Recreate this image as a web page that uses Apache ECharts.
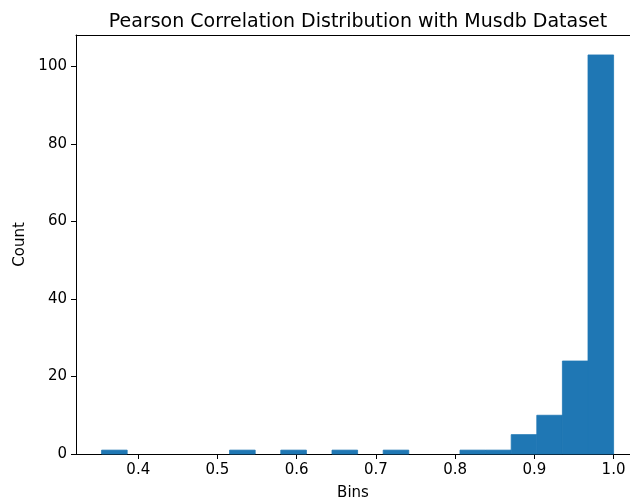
<!DOCTYPE html>
<html>
<head>
<meta charset="utf-8">
<script src="https://cdn.jsdelivr.net/npm/echarts@6/dist/echarts.min.js"></script>
<style>
  html, body { margin: 0; padding: 0; background: #fff; }
  #chart { width: 630px; height: 503px; }
</style>
</head>
<body>
<div id="chart"></div>
<script>
// histogram bins: 20 equal bins from first edge to last edge
const binStart = 0.3537;
const binWidth = 0.03232;
const binCounts = [1, 0, 0, 0, 0, 1, 0, 1, 0, 1, 0, 1, 0, 0, 1, 1, 5, 10, 24, 103];
const xTicks = [0.4, 0.5, 0.6, 0.7, 0.8, 0.9, 1.0];
const yTicks = [0, 20, 40, 60, 80, 100];

const font = 'DejaVu Sans';
const barColor = '#1f77b4';

// [left edge, right edge, count]
const barData = binCounts.map((c, i) => [binStart + i * binWidth, binStart + (i + 1) * binWidth, c]);

const chart = echarts.init(document.getElementById('chart'), null, { renderer: 'canvas' });

// the plot area runs past the right edge of the picture, so no right spine
const xMin = 0.3214;
const xMax = 1.0208;

chart.setOption({
  animation: false,
  title: {
    text: 'Pearson Correlation Distribution with Musdb Dataset',
    left: 353,
    top: 8,
    textAlign: 'center',
    textStyle: { fontFamily: font, fontSize: 19, fontWeight: 'normal', color: '#000' },
  },
  grid: {
    left: 76,
    right: 0,
    top: 35,
    bottom: 49,
    outerBoundsMode: 'none',
  },
  xAxis: [{
    type: 'value',
    min: xMin,
    max: xMax,
    name: 'Bins',
    nameLocation: 'middle',
    nameGap: 32,
    nameTextStyle: { fontFamily: font, fontSize: 15, color: '#000' },
    axisLine: { show: true, lineStyle: { color: '#000', width: 1 } },
    axisTick: { show: true, inside: false, length: 5, lineStyle: { color: '#000' },
      customValues: xTicks },
    axisLabel: { fontFamily: font, fontSize: 15, color: '#000', margin: 9,
      customValues: xTicks, formatter: (v) => v.toFixed(1) },
    splitLine: { show: false },
  }, {
    // top spine only
    type: 'value',
    position: 'top',
    min: xMin,
    max: xMax,
    axisLine: { show: true, lineStyle: { color: '#000', width: 1 } },
    axisTick: { show: false },
    axisLabel: { show: false },
    splitLine: { show: false },
  }],
  yAxis: {
    type: 'value',
    min: 0,
    max: 108.15,
    name: 'Count',
    nameLocation: 'middle',
    nameGap: 45,
    nameRotate: 90,
    nameTextStyle: { fontFamily: font, fontSize: 15, color: '#000' },
    axisLine: { show: true, lineStyle: { color: '#000', width: 1 } },
    axisTick: { show: true, inside: false, length: 5, lineStyle: { color: '#000' },
      customValues: yTicks },
    axisLabel: { fontFamily: font, fontSize: 15, color: '#000', margin: 9,
      customValues: yTicks },
    splitLine: { show: false },
  },
  series: [{
    type: 'custom',
    data: barData,
    encode: { x: [0, 1], y: 2 },
    renderItem: (params, api) => {
      // empty bins draw nothing
      if (!api.value(2)) return null;
      const p0 = api.coord([api.value(0), 0]);
      const p1 = api.coord([api.value(1), api.value(2)]);
      return {
        type: 'rect',
        shape: { x: p0[0], y: p1[1], width: p1[0] - p0[0], height: p0[1] - p1[1] },
        style: { fill: barColor, stroke: barColor, lineWidth: 0.8 },
      };
    },
  }],
});
</script>
</body>
</html>
